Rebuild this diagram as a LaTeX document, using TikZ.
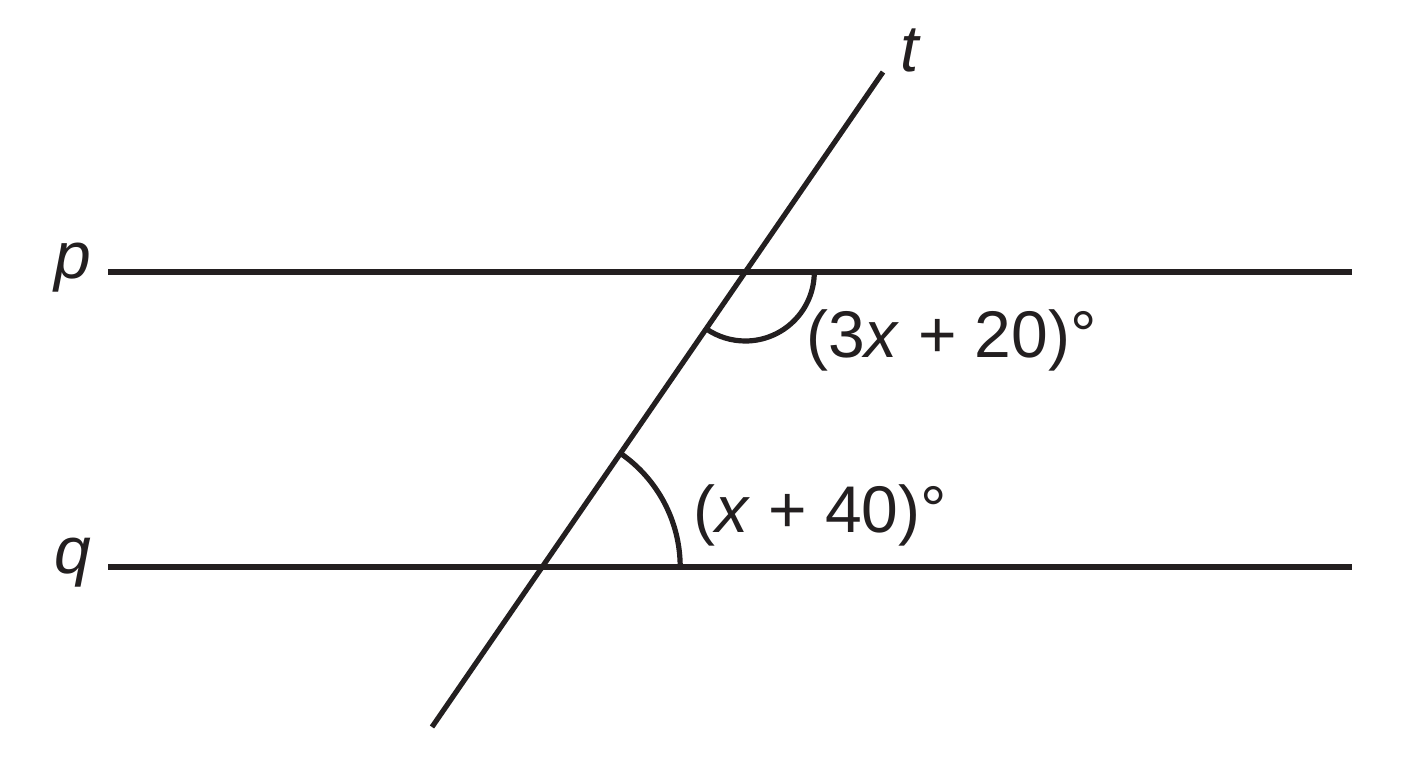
\documentclass[tikz,border=0pt]{standalone}
\usepackage{fontspec}
\setmainfont{Liberation Sans}
\definecolor{ink}{HTML}{231F20}
\begin{document}
\begin{tikzpicture}[x=1pt,y=-1pt,
  ln/.style={draw=ink,line width=5.2pt},
  lbl/.style={inner sep=0pt,text=ink,font=\fontsize{66}{78}\selectfont}]
\useasboundingbox (0,0) rectangle (1408,768);
\coordinate (pL) at (108,272);
\coordinate (pR) at (1352,272);
\coordinate (qL) at (108,567);
\coordinate (qR) at (1352,567);
\coordinate (tB) at (432,727);
\coordinate (tT) at (883,72);
\coordinate (P) at (745.3,272);
\coordinate (Q) at (542.2,567);
\draw[ln] (pL) -- (pR);
\draw[ln] (qL) -- (qR);
\draw[ln] (tB) -- (tT);
\draw[ln] ([xshift=69pt]P) arc[start angle=0,end angle=124.55,radius=69];
\draw[ln] ([xshift=138pt]Q) arc[start angle=0,end angle=-55.45,radius=138];
\node[lbl,anchor=base west] (a1) at (806,357) {(3\textit{x} + 20)°};
\node[lbl,anchor=base west] (a2) at (693,532) {(\textit{x} + 40)°};
\node[lbl] (lp) at (73,268) {\textit{p}};
\node[lbl] (lq) at (73,563) {\textit{q}};
\node[lbl,anchor=base] (lt) at (911,72) {\textit{t}};
\end{tikzpicture}
\end{document}
